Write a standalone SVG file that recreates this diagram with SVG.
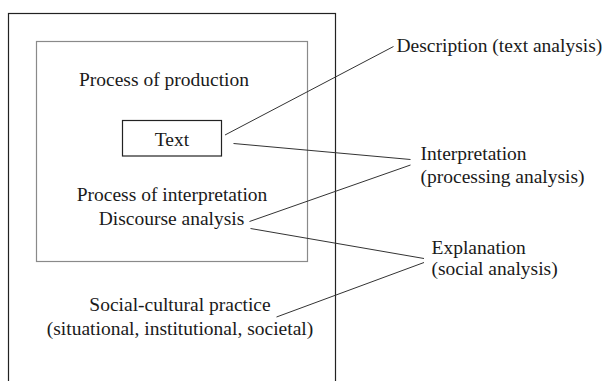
<svg xmlns="http://www.w3.org/2000/svg" width="605" height="381" viewBox="0 0 605 381">
<style>
text { font-family: 'Liberation Serif', 'Times New Roman', serif; font-size: 19.5px; fill: #1a1a1a; }
.c { text-anchor: middle; }
.conn line { stroke: #333; stroke-width: 1; fill: none; }
</style>
<rect width="605" height="381" fill="#fff"/>
<g id="social-practice">
<rect x="8.5" y="13.5" width="327" height="400" fill="none" stroke="#222" stroke-width="1.2"/>
<text class="c" x="180" y="311">Social-cultural practice</text>
<text class="c" x="180" y="335">(situational, institutional, societal)</text>
</g>
<g id="discourse-practice">
<rect x="36.5" y="41.5" width="271" height="220" fill="none" stroke="#8a8a8a" stroke-width="1.2"/>
<text class="c" x="164" y="86">Process of production</text>
<text class="c" x="172" y="200.5">Process of interpretation</text>
<text class="c" x="171.5" y="225">Discourse analysis</text>
</g>
<g id="text-node">
<rect x="122.5" y="120.5" width="99" height="35.5" fill="none" stroke="#222" stroke-width="1.2"/>
<text class="c" x="172" y="145.5">Text</text>
</g>
<g id="description">
<text x="396.5" y="51.5">Description (text analysis)</text>
</g>
<g id="interpretation">
<text x="420.5" y="159.5">Interpretation</text>
<text x="420.5" y="182.5">(processing analysis)</text>
</g>
<g id="explanation">
<text x="431.5" y="253.5">Explanation</text>
<text x="431.5" y="275">(social analysis)</text>
</g>
<g class="conn" id="connectors">
<line x1="225" y1="135" x2="393.5" y2="46.5"/>
<line x1="233.5" y1="143.5" x2="410.5" y2="159.5"/>
<line x1="249.5" y1="221.5" x2="410.5" y2="165"/>
<line x1="250.5" y1="228.5" x2="424" y2="258.5"/>
<line x1="276.5" y1="317" x2="424" y2="262.5"/>
</g>
</svg>
